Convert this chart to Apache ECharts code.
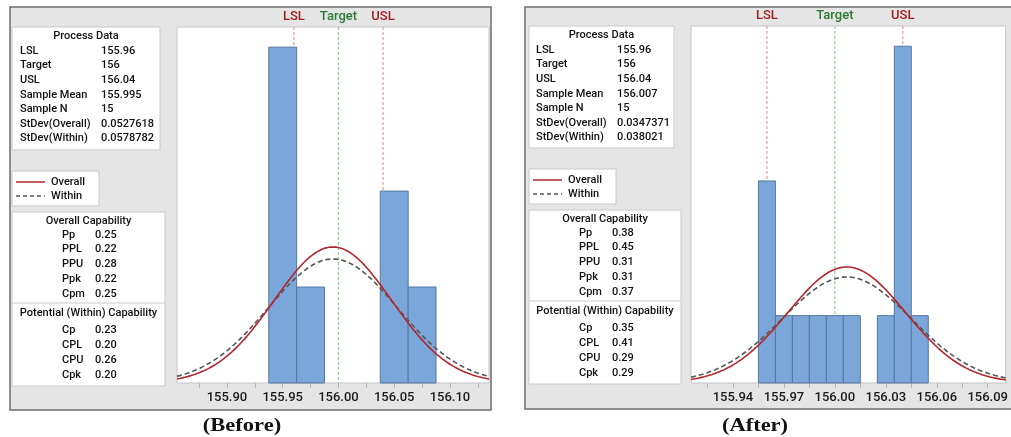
<!DOCTYPE html>
<html><head><meta charset="utf-8">
<script src="https://cdn.jsdelivr.net/npm/echarts@6/dist/echarts.min.js"></script>
<style>html,body{margin:0;padding:0;background:#fff}#c{width:1011px;height:437px}</style>
</head><body><div id="c"></div><script>
// ---------- data ----------
const procLabels = ['LSL', 'Target', 'USL', 'Sample Mean', 'Sample N', 'StDev(Overall)', 'StDev(Within)'];
const beforeProc = ['155.96', '156', '156.04', '155.995', '15', '0.0527618', '0.0578782'];
const afterProc = ['155.96', '156', '156.04', '156.007', '15', '0.0347371', '0.038021'];
const overallLabels = ['Pp', 'PPL', 'PPU', 'Ppk', 'Cpm'];
const beforeOverall = ['0.25', '0.22', '0.28', '0.22', '0.25'];
const afterOverall = ['0.38', '0.45', '0.31', '0.31', '0.37'];
const withinLabels = ['Cp', 'CPL', 'CPU', 'Cpk'];
const beforeWithin = ['0.23', '0.20', '0.26', '0.20'];
const afterWithin = ['0.35', '0.41', '0.29', '0.29'];

const specNames = ['LSL', 'Target', 'USL'];
const specValues = [155.96, 156, 156.04];
const sampleN = 15;
const beforeMean = 155.995, beforeSdOverall = 0.0527618, beforeSdWithin = 0.0578782;
const afterMean = 156.007, afterSdOverall = 0.0347371, afterSdWithin = 0.038021;

const beforeBinWidth = 0.025;
const beforeBinCenters = [155.95, 155.975, 156.05, 156.075];
const beforeCounts = [7, 2, 4, 2];
const afterBinWidth = 0.01;
const afterBinCenters = [155.96, 155.97, 155.98, 155.99, 156.00, 156.01, 156.03, 156.04, 156.05];
const afterCounts = [3, 1, 1, 1, 1, 1, 1, 5, 1];

const beforeTickLabels = [155.90, 155.95, 156.00, 156.05, 156.10];
const beforeTicks = [155.875, 155.90, 155.925, 155.95, 155.975, 156.00, 156.025, 156.05, 156.075, 156.10, 156.125];
const afterTickLabels = [155.94, 155.97, 156.00, 156.03, 156.06, 156.09];
const afterTicks = [155.925, 155.94, 155.955, 155.97, 155.985, 156.00, 156.015, 156.03, 156.045, 156.06, 156.075, 156.09];
const beforeRange = [155.8552, 156.135];
const afterRange = [155.9153, 156.1006];
const beforeYMax = 7.42, afterYMax = 5.30;
const captions = ['(Before)', '(After)'];

// ---------- helpers ----------
function normalCurve(mean, sd, n, bw, range) {
  const pts = [];
  const steps = 240;
  for (let i = 0; i <= steps; i++) {
    const x = range[0] + (range[1] - range[0]) * i / steps;
    const z = (x - mean) / sd;
    pts.push([x, n * bw * Math.exp(-0.5 * z * z) / (sd * Math.sqrt(2 * Math.PI))]);
  }
  return pts;
}
const FONT = 'Roboto';
const TXT = '#111111';

function txt(x, y, s, align, extra) {
  return Object.assign({
    type: 'text', z: 20,
    style: { x: x, y: y, text: s, fill: TXT, font: '500 11px ' + FONT, textAlign: align || 'left', verticalAlign: 'middle' }
  }, extra || {});
}
function box(x, y, w, h) {
  return { type: 'rect', z: 10, shape: { x: x, y: y, width: w, height: h },
    style: { fill: '#ffffff', stroke: '#c9c9c9', lineWidth: 1 } };
}

function panelGraphics(L, proc, ov, wi) {
  const g = [];
  g.push({ type: 'rect', z: -5, shape: { x: L.px, y: L.py, width: L.pw, height: L.ph },
    style: { fill: '#e5e5e5', stroke: '#6c6c6c', lineWidth: 1.5 } });
  g.push(box(L.bx, L.by, L.bw, L.bh));
  g.push(txt(L.bx + L.bw / 2, L.by + 9, 'Process Data', 'center'));
  procLabels.forEach((s, i) => {
    g.push(txt(L.lx, L.by + 24 + i * 14.6, s));
    g.push(txt(L.vx, L.by + 24 + i * 14.6, proc[i]));
  });
  g.push(box(L.bx, L.ly, 87, 35));
  g.push({ type: 'line', z: 20, shape: { x1: L.bx + 4, y1: L.ly + 11, x2: L.bx + 33, y2: L.ly + 11 },
    style: { stroke: '#b3262a', lineWidth: 1.5 } });
  g.push({ type: 'line', z: 20, shape: { x1: L.bx + 4, y1: L.ly + 25, x2: L.bx + 33, y2: L.ly + 25 },
    style: { stroke: '#555', lineWidth: 1.3, lineDash: [4, 3] } });
  g.push(txt(L.bx + 39, L.ly + 11, 'Overall'));
  g.push(txt(L.bx + 39, L.ly + 25, 'Within'));
  g.push(box(L.bx, L.cy, L.cw, 174));
  g.push({ type: 'line', z: 20, shape: { x1: L.bx, y1: L.cy + 91, x2: L.bx + L.cw, y2: L.cy + 91 },
    style: { stroke: '#c9c9c9', lineWidth: 1 } });
  g.push(txt(L.bx + L.cw / 2, L.cy + 9, 'Overall Capability', 'center'));
  overallLabels.forEach((s, i) => {
    g.push(txt(L.cl, L.cy + 23 + i * 14.7, s));
    g.push(txt(L.cv, L.cy + 23 + i * 14.7, ov[i]));
  });
  g.push(txt(L.bx + L.cw / 2, L.cy + 101, 'Potential (Within) Capability', 'center'));
  withinLabels.forEach((s, i) => {
    g.push(txt(L.cl, L.cy + 118 + i * 15, s));
    g.push(txt(L.cv, L.cy + 118 + i * 15, wi[i]));
  });
  g.push({ type: 'text', z: 20, x: L.capx, y: 426, scaleX: 1.25,
    style: { x: 0, y: 0, text: L.cap, fill: '#111', font: 'bold 18px "Liberation Serif"', textAlign: 'center', verticalAlign: 'middle' } });
  return g;
}

const layouts = [
  { px: 10, py: 7, pw: 481, ph: 403, bx: 12, by: 27, bw: 148, bh: 123, lx: 20, vx: 101, ly: 171, cy: 212, cw: 153, cl: 62, cv: 95, capx: 242, cap: captions[0] },
  { px: 525, py: 7, pw: 520, ph: 402, bx: 529, by: 26, bw: 145, bh: 122, lx: 536, vx: 617, ly: 169, cy: 210, cw: 152, cl: 579, cv: 612, capx: 755, cap: captions[1] }
];

const graphics = panelGraphics(layouts[0], beforeProc, beforeOverall, beforeWithin)
  .concat(panelGraphics(layouts[1], afterProc, afterOverall, afterWithin));

function xAxisFor(idx, range, ticks, labels) {
  return {
    type: 'value', gridIndex: idx, min: range[0], max: range[1],
    axisLine: { show: false },
    axisTick: { show: true, customValues: ticks, length: 5, lineStyle: { color: '#b5b5b5' } },
    axisLabel: { customValues: labels, formatter: v => Number(v).toFixed(2), fontSize: 13, color: '#1a1a1a', margin: 8, fontFamily: FONT, fontWeight: 500 },
    splitLine: { show: false }
  };
}

const specLineColors = ['#f09a9a', '#8cd494', '#f09a9a'];
const specLabelColors = ['#a11d22', '#2a7a36', '#a11d22'];

function specSeries(idx) {
  return {
    type: 'custom', xAxisIndex: idx, yAxisIndex: idx, z: 1, silent: true, clip: false,
    data: specValues.map(v => [v]),
    renderItem: function (params, api) {
      const i = params.dataIndex;
      const x = api.coord([api.value(0), 0])[0];
      const cs = params.coordSys;
      return {
        type: 'group', children: [
          { type: 'line', shape: { x1: x, y1: cs.y, x2: x, y2: cs.y + cs.height },
            style: { stroke: specLineColors[i], lineWidth: 1.2, lineDash: [3, 2] } },
          { type: 'text', style: { x: x, y: cs.y - 10, text: specNames[i], fill: specLabelColors[i],
              font: '500 13px ' + FONT, textAlign: 'center', verticalAlign: 'middle' } }
        ]
      };
    }
  };
}

function barSeries(idx, centers, counts, bw) {
  return {
    type: 'custom', xAxisIndex: idx, yAxisIndex: idx, z: 2,
    data: centers.map((c, i) => [c, counts[i]]),
    renderItem: function (params, api) {
      const c = api.value(0), h = api.value(1);
      const p0 = api.coord([c - bw / 2, 0]);
      const p1 = api.coord([c + bw / 2, h]);
      return { type: 'rect', shape: { x: p0[0], y: p1[1], width: p1[0] - p0[0], height: p0[1] - p1[1] },
        style: { fill: '#7ba6d9', stroke: '#56779e', lineWidth: 1 } };
    }
  };
}

function curveSeries(idx, data, color, dashed) {
  return {
    type: 'line', xAxisIndex: idx, yAxisIndex: idx, z: 3, data: data, showSymbol: false, symbol: 'none',
    lineStyle: { color: color, width: 1.6, type: dashed ? [5, 3] : 'solid' }, silent: true
  };
}

const option = {
  animation: false,
  backgroundColor: '#ffffff',
  graphic: { elements: graphics },
  grid: [
    { left: 177, top: 27, width: 312, height: 356, show: true, backgroundColor: '#ffffff', borderColor: '#c6c6c6', borderWidth: 1 },
    { left: 691, top: 26, width: 315, height: 357, show: true, backgroundColor: '#ffffff', borderColor: '#c6c6c6', borderWidth: 1 }
  ],
  xAxis: [
    xAxisFor(0, beforeRange, beforeTicks, beforeTickLabels),
    xAxisFor(1, afterRange, afterTicks, afterTickLabels)
  ],
  yAxis: [
    { type: 'value', gridIndex: 0, min: 0, max: beforeYMax, show: false, splitLine: { show: false } },
    { type: 'value', gridIndex: 1, min: 0, max: afterYMax, show: false, splitLine: { show: false } }
  ],
  series: [
    specSeries(0),
    barSeries(0, beforeBinCenters, beforeCounts, beforeBinWidth),
    curveSeries(0, normalCurve(beforeMean, beforeSdWithin, sampleN, beforeBinWidth, beforeRange), '#555555', true),
    curveSeries(0, normalCurve(beforeMean, beforeSdOverall, sampleN, beforeBinWidth, beforeRange), '#b3262a', false),
    specSeries(1),
    barSeries(1, afterBinCenters, afterCounts, afterBinWidth),
    curveSeries(1, normalCurve(afterMean, afterSdWithin, sampleN, afterBinWidth, afterRange), '#555555', true),
    curveSeries(1, normalCurve(afterMean, afterSdOverall, sampleN, afterBinWidth, afterRange), '#b3262a', false)
  ]
};
const chart = echarts.init(document.getElementById('c'));
chart.setOption(option);
</script></body></html>
